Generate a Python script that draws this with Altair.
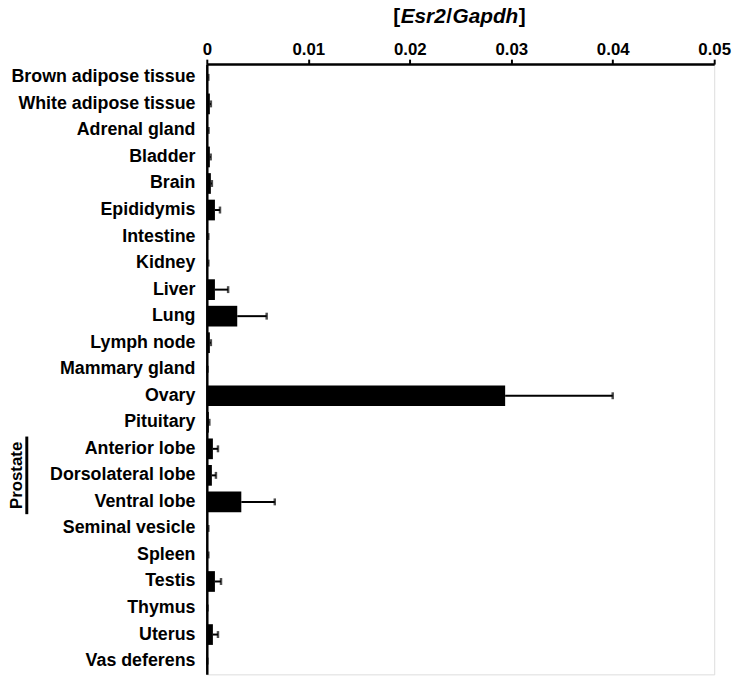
import altair as alt
import pandas as pd

# ---- data ----
tissues = [
    "Brown adipose tissue", "White adipose tissue", "Adrenal gland", "Bladder",
    "Brain", "Epididymis", "Intestine", "Kidney", "Liver", "Lung", "Lymph node",
    "Mammary gland", "Ovary", "Pituitary", "Anterior lobe", "Dorsolateral lobe",
    "Ventral lobe", "Seminal vesicle", "Spleen", "Testis", "Thymus", "Uterus",
    "Vas deferens",
]
means = [
    0.0001, 0.0003, 0.00012, 0.0003, 0.0004, 0.0008, 0.0001, 0.0001, 0.0008,
    0.0030, 0.0003, 0.00005, 0.0294, 0.0002, 0.0006, 0.0005, 0.0034, 0.0001,
    0.0001, 0.0008, 0.00005, 0.0006, 0.00003,
]
errors = [
    0.00005, 0.0001, 0.00005, 0.00008, 0.0001, 0.0005, 0.00005, 0.00005, 0.0013,
    0.0029, 0.0001, 0.00002, 0.0106, 0.00005, 0.0005, 0.0004, 0.0033, 0.00005,
    0.00005, 0.0006, 0.00002, 0.0005, 0.00002,
]
x_ticks = [0, 0.01, 0.02, 0.03, 0.04, 0.05]
group_label = "Prostate"
group_members = ["Anterior lobe", "Dorsolateral lobe", "Ventral lobe"]

df = pd.DataFrame({"tissue": tissues, "mean": means, "err": errors})
df["upper"] = df["mean"] + df["err"]

FONT = "Liberation Sans"
W, H = 513, 617
STEP = H / len(tissues)

xscale = alt.Scale(domain=[0, 0.05], nice=False, zero=True)
yscale = alt.Scale(domain=tissues, paddingInner=0.22, paddingOuter=0.11)

base = alt.Chart(df)

bars = base.mark_bar(color="black").encode(
    x=alt.X(
        "mean:Q",
        scale=xscale,
        axis=alt.Axis(
            orient="top", values=x_ticks, title=None, grid=False,
            labelExpr="datum.value == 0 ? '0' : format(datum.value, '.2f')",
            labelFont=FONT, labelFontSize=17, labelFontWeight="bold",
            labelColor="black", labelPadding=1, tickSize=5, tickWidth=2,
            tickColor="black", domainColor="black", domainWidth=2.5,
            labelFlush=False, labelOverlap=False,
        ),
    ),
    y=alt.Y(
        "tissue:N",
        scale=yscale,
        sort=tissues,
        axis=alt.Axis(
            title=None, ticks=False, grid=False, labelFont=FONT,
            labelFontSize=18, labelFontWeight="bold", labelColor="black",
            labelPadding=12, domainColor="black", domainWidth=2.5,
            labelLimit=400,
        ),
    ),
)

err_rule = base.mark_rule(color="black", strokeWidth=2).encode(
    x="mean:Q", x2="upper:Q", y=alt.Y("tissue:N", sort=tissues, scale=yscale)
)
err_cap = base.mark_tick(color="black", thickness=2.5, size=7).encode(
    x="upper:Q", y=alt.Y("tissue:N", sort=tissues, scale=yscale)
)

# Title "[Esr2/Gapdh]" with italic gene names
TS = 21
pieces = [("[", "normal", 0.333), ("Esr2", "italic", 2.168), ("/", "normal", 0.278),
          ("Gapdh", "italic", 3.167), ("]", "normal", 0.333)]
total = sum(p[2] for p in pieces) * TS
start = W / 2 - total / 2 - 2
title_layers = []
xpos = start
for txt, style, w in pieces:
    title_layers.append(
        alt.Chart(pd.DataFrame({"t": [txt]})).mark_text(
            font=FONT, fontSize=TS, fontWeight="bold", fontStyle=style,
            align="left", baseline="alphabetic", color="black",
        ).encode(text="t:N", x=alt.value(xpos), y=alt.value(-42))
    )
    xpos += w * TS + 0.5

# Prostate group label + bracket line
grp = pd.DataFrame({"tissue": [group_members[0]], "tissue2": [group_members[-1]]})
prostate_line = alt.Chart(grp).mark_rule(color="black", strokeWidth=3).encode(
    x=alt.value(-182),
    y=alt.value(STEP * 14 + 1),
    y2=alt.value(STEP * 17 - 1),
)
prostate_text = alt.Chart(pd.DataFrame({"t": [group_label]})).mark_text(
    font=FONT, fontSize=17, fontWeight="bold", angle=270, align="center",
    baseline="alphabetic", color="black",
).encode(text="t:N", x=alt.value(-187), y=alt.value(STEP * 15.5))

chart = alt.layer(
    bars, err_rule, err_cap, prostate_line, prostate_text, *title_layers
).properties(
    width=W, height=H,
    autosize=alt.AutoSizeParams(type="none"),
    padding={"left": 201, "top": 53, "right": 18, "bottom": 3},
).configure_view(stroke="black", strokeWidth=2.5).configure(background="white")

chart.save("out.html", embed_options={"renderer": "svg", "actions": False})
